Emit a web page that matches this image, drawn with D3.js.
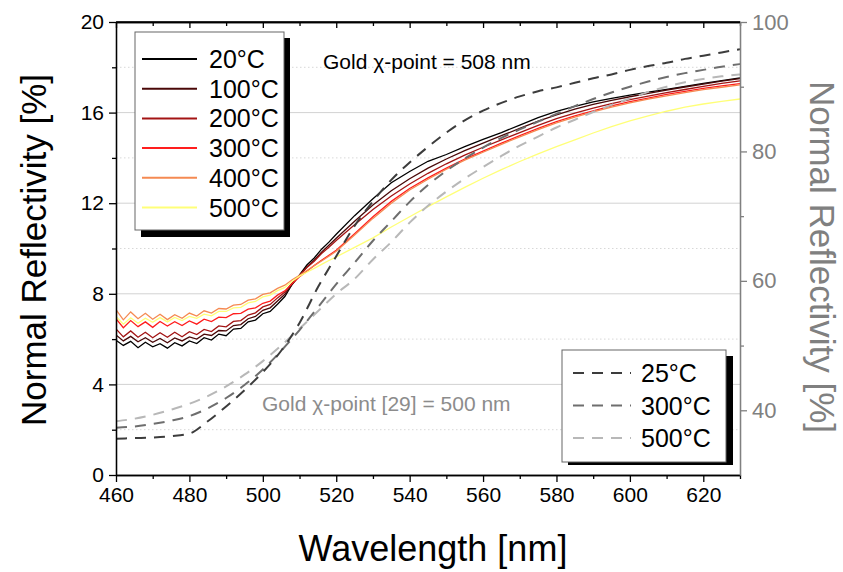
<!DOCTYPE html>
<html><head><meta charset="utf-8">
<script src="https://cdn.jsdelivr.net/npm/d3@7"></script>
<style>body{margin:0;background:#fff} svg text{font-family:"Liberation Sans",Arial,sans-serif}</style>
</head><body><svg id="c" width="843" height="572"></svg>
<script>
// ---------- DATA ----------
const wlSolid = [460,462,464,466,468,470,472,474,476,478,480,482,484,486,488,490,492,494,496,498,500,502,504,506,508,510,512,514,516,518,520,525,530,535,540,545,550,555,560,565,570,575,580,585,590,595,600,605,610,615,620,625,630];
const measLabels = ["20°C","100°C","200°C","300°C","400°C","500°C"];
const meas20 = [5.95,5.72,5.9,5.62,5.86,5.66,5.8,5.6,5.84,5.7,5.92,5.8,6.06,5.96,6.22,6.15,6.44,6.47,6.76,6.84,7.12,7.22,7.54,7.88,8.42,8.83,9.27,9.58,9.97,10.28,10.63,11.45,12.2,12.9,13.4,13.85,14.15,14.5,14.82,15.12,15.45,15.78,16.05,16.28,16.47,16.63,16.77,16.9,17.03,17.16,17.29,17.41,17.53];
const meas100 = [6.18,5.92,6.12,5.88,6.06,5.86,6.03,5.84,6.05,5.92,6.1,6.0,6.22,6.16,6.38,6.36,6.6,6.64,6.9,7.0,7.27,7.38,7.68,7.98,8.42,8.8,9.18,9.48,9.84,10.14,10.45,11.2,11.92,12.55,13.08,13.55,13.95,14.32,14.65,14.98,15.3,15.62,15.9,16.15,16.36,16.54,16.7,16.85,16.99,17.13,17.26,17.39,17.5];
const meas200 = [6.45,6.1,6.36,6.08,6.3,6.06,6.28,6.08,6.3,6.1,6.33,6.2,6.43,6.33,6.58,6.54,6.78,6.82,7.06,7.16,7.42,7.53,7.82,8.08,8.48,8.82,9.16,9.44,9.78,10.06,10.35,11.05,11.72,12.32,12.85,13.32,13.74,14.12,14.47,14.8,15.12,15.44,15.73,15.98,16.2,16.4,16.57,16.73,16.88,17.02,17.16,17.29,17.4];
const meas300 = [6.9,6.5,6.82,6.55,6.76,6.52,6.78,6.58,6.77,6.6,6.8,6.66,6.88,6.77,6.97,6.95,7.12,7.14,7.32,7.38,7.58,7.68,7.94,8.13,8.45,8.75,9.0,9.25,9.48,9.7,9.92,10.65,11.4,12.08,12.65,13.12,13.55,13.95,14.3,14.65,14.98,15.3,15.6,15.85,16.08,16.3,16.48,16.64,16.8,16.94,17.07,17.18,17.28];
const meas400 = [7.3,6.85,7.2,6.9,7.14,6.88,7.1,6.86,7.08,6.92,7.15,7.02,7.25,7.15,7.35,7.33,7.5,7.53,7.72,7.78,7.97,8.04,8.24,8.38,8.62,8.82,9.03,9.24,9.45,9.66,9.88,10.6,11.33,12.0,12.58,13.06,13.5,13.9,14.25,14.6,14.93,15.25,15.55,15.8,16.03,16.24,16.43,16.59,16.74,16.88,17.01,17.12,17.22];
const meas500 = [7.0,6.66,6.94,6.7,6.92,6.74,6.95,6.76,6.96,6.82,7.0,6.92,7.1,7.03,7.22,7.22,7.38,7.4,7.6,7.66,7.86,7.94,8.14,8.28,8.55,8.78,8.95,9.12,9.3,9.47,9.63,10.05,10.47,10.95,11.4,11.85,12.28,12.7,13.1,13.48,13.84,14.18,14.5,14.8,15.1,15.38,15.63,15.86,16.06,16.24,16.38,16.5,16.6];
const measColors = ["#000000","#4a0808","#a31414","#ff1e1e","#f58a52","#ffff78"];

const wlCalc = [460,465,470,475,480,485,490,495,500,505,510,515,520,525,530,535,540,545,550,555,560,565,570,575,580,585,590,595,600,605,610,615,620,625,630];
const calcLabels = ["25°C","300°C","500°C"];
const calc25 = [35.6,35.7,35.8,36.0,36.4,38.3,40.6,43.1,45.9,49.2,53.5,59.0,63.8,68.5,72.3,75.6,78.3,80.7,82.9,84.8,86.3,87.5,88.5,89.3,89.9,90.6,91.3,91.9,92.6,93.2,93.7,94.3,94.8,95.3,95.8];
const calc300 = [37.3,37.5,37.9,38.4,39.1,40.3,41.9,43.9,46.3,49.2,52.4,55.9,59.5,62.8,66.2,69.2,72.2,74.8,77.0,78.9,80.6,82.1,83.4,84.6,85.8,87.0,88.1,89.1,90.0,90.8,91.5,92.1,92.6,93.1,93.5];
const calc500 = [38.3,38.7,39.3,40.1,41.0,42.2,43.7,45.5,47.6,50.0,52.6,55.3,58.0,60.3,63.3,66.0,69.0,71.6,73.8,75.8,77.6,79.3,80.9,82.3,83.7,84.9,86.1,87.2,88.2,89.2,90.0,90.7,91.2,91.6,91.9];
const calcColors = ["#3c3c3c","#6e6e6e","#b8b8b8"];

const xMajor = [460,480,500,520,540,560,580,600,620];
const xMinor = [470,490,510,530,550,570,590,610,630];
const yLeftMajor = [0,4,8,12,16,20];
const yLeftMinor = [2,6,10,14,18];
const yRightMajor = [40,60,80,100];
const yRightMinor = [50,70,90];

// ---------- LAYOUT ----------
const L = 116, R = 740, T = 22, B = 475;
const svg = d3.select("#c");
const x = d3.scaleLinear().domain([460,630]).range([L,R]);
const yL = d3.scaleLinear().domain([0,20]).range([B,T]);
const yR = d3.scaleLinear().domain([30,100]).range([B,T]);
const font = '"Liberation Sans",Arial,sans-serif';

// gridlines
svg.append("g").selectAll("line").data(yLeftMajor.filter(v=>v>0&&v<20)).join("line")
  .attr("x1",L).attr("x2",R).attr("y1",d=>yL(d)).attr("y2",d=>yL(d))
  .attr("stroke","#d2d2d2").attr("stroke-width",1);
svg.append("g").selectAll("line").data(yLeftMinor).join("line")
  .attr("x1",L).attr("x2",R).attr("y1",d=>yL(d)).attr("y2",d=>yL(d))
  .attr("stroke","#d8d8d8").attr("stroke-width",1).attr("stroke-dasharray","1.5,2.5");

svg.append("clipPath").attr("id","clip").append("rect").attr("x",L).attr("y",T).attr("width",R-L).attr("height",B-T);
const plot = svg.append("g").attr("clip-path","url(#clip)");

// measured curves
const measAll = [meas20,meas100,meas200,meas300,meas400,meas500];
const lineL = d3.line().x((d,i)=>x(wlSolid[i])).y(d=>yL(d));
measAll.forEach((s,k)=>{
  plot.append("path").datum(s).attr("d",lineL).attr("fill","none")
    .attr("stroke",measColors[k]).attr("stroke-width",1.3);
});
// calculated curves
const calcAll = [calc25,calc300,calc500];
const lineR = d3.line().curve(d3.curveMonotoneX).x((d,i)=>x(wlCalc[i])).y(d=>yR(d));
calcAll.slice().reverse().forEach((s,kk)=>{
  const k = 2-kk;
  plot.append("path").datum(s).attr("d",lineR).attr("fill","none")
    .attr("stroke",calcColors[k]).attr("stroke-width",2).attr("stroke-dasharray","11,8");
});

// axes
function styleAxis(g, color, fs){
  g.selectAll("path.domain").attr("stroke",color).attr("stroke-width",1.3);
  g.selectAll(".tick line").attr("stroke",color).attr("stroke-width",1.3);
  g.selectAll(".tick text").attr("fill",color).style("font-family",font).style("font-size",fs+"px");
}
const gb = svg.append("g").attr("transform",`translate(0,${B})`)
  .call(d3.axisBottom(x).tickValues(xMajor).tickSize(7).tickSizeOuter(0).tickPadding(5).tickFormat(d3.format("d")));
styleAxis(gb,"#000",21);
const gbm = svg.append("g").attr("transform",`translate(0,${B})`)
  .call(d3.axisBottom(x).tickValues(xMinor).tickSize(4).tickSizeOuter(0).tickFormat(""));
styleAxis(gbm,"#000",21);
const gt = svg.append("g").attr("transform",`translate(0,${T})`)
  .call(d3.axisBottom(x).tickValues(xMajor).tickSize(6).tickSizeOuter(0).tickFormat(""));
styleAxis(gt,"#000",21);
const gtm = svg.append("g").attr("transform",`translate(0,${T})`)
  .call(d3.axisBottom(x).tickValues(xMinor).tickSize(4).tickSizeOuter(0).tickFormat(""));
styleAxis(gtm,"#000",21);
const gl = svg.append("g").attr("transform",`translate(${L},0)`)
  .call(d3.axisLeft(yL).tickValues(yLeftMajor).tickSize(7).tickSizeOuter(0).tickPadding(5).tickFormat(d3.format("d")));
styleAxis(gl,"#000",21);
const glm = svg.append("g").attr("transform",`translate(${L},0)`)
  .call(d3.axisLeft(yL).tickValues(yLeftMinor).tickSize(4).tickSizeOuter(0).tickFormat(""));
styleAxis(glm,"#000",21);
const gr = svg.append("g").attr("transform",`translate(${R},0)`)
  .call(d3.axisRight(yR).tickValues(yRightMajor).tickSize(7).tickSizeOuter(0).tickPadding(5).tickFormat(d3.format("d")));
styleAxis(gr,"#808080",22);
const grm = svg.append("g").attr("transform",`translate(${R},0)`)
  .call(d3.axisRight(yR).tickValues(yRightMinor).tickSize(4).tickSizeOuter(0).tickFormat(""));
styleAxis(grm,"#808080",22);
svg.append("line").attr("x1",L).attr("x2",R).attr("y1",T).attr("y2",T).attr("stroke","#000").attr("stroke-width",1.3);

// axis titles
svg.append("text").attr("x",433).attr("y",561).attr("text-anchor","middle")
  .style("font-size","36px").attr("fill","#000").text("Wavelength [nm]");
svg.append("text").attr("transform","translate(46,250) rotate(-90)").attr("text-anchor","middle")
  .style("font-size","35px").attr("fill","#000").text("Normal Reflectivity [%]");
svg.append("text").attr("transform","translate(810,257) rotate(90)").attr("text-anchor","middle")
  .style("font-size","35px").attr("fill","#808080").text("Normal Reflectivity [%]");

// annotations
svg.append("text").attr("x",323).attr("y",69).style("font-size","21px").attr("fill","#000")
  .text("Gold χ-point = 508 nm");
svg.append("text").attr("x",262).attr("y",411).style("font-size","21px").attr("fill","#8c8c8c")
  .text("Gold χ-point [29] = 500 nm");

// legend 1 (measured)
const lg1 = svg.append("g");
lg1.append("rect").attr("x",141).attr("y",38).attr("width",149).attr("height",199).attr("fill","#000");
lg1.append("rect").attr("x",135).attr("y",32).attr("width",149).attr("height",198).attr("fill","#fff").attr("stroke","#666").attr("stroke-width",1);
measLabels.forEach((lab,i)=>{
  const yy = 59 + i*29.7;
  lg1.append("line").attr("x1",142).attr("x2",197).attr("y1",yy).attr("y2",yy).attr("stroke",measColors[i]).attr("stroke-width",2);
  lg1.append("text").attr("x",209).attr("y",yy+9).style("font-size","25px").attr("fill","#000").text(lab);
});

// legend 2 (calculated)
const lg2 = svg.append("g");
lg2.append("rect").attr("x",568).attr("y",356).attr("width",165).attr("height",109).attr("fill","#000");
lg2.append("rect").attr("x",562).attr("y",350).attr("width",164).attr("height",112).attr("fill","#fff").attr("stroke","#666").attr("stroke-width",1);
calcLabels.forEach((lab,i)=>{
  const yy = 373 + i*32.5;
  lg2.append("line").attr("x1",573).attr("x2",631).attr("y1",yy).attr("y2",yy).attr("stroke",calcColors[i]).attr("stroke-width",2).attr("stroke-dasharray","11,8");
  lg2.append("text").attr("x",641).attr("y",yy+9).style("font-size","25px").attr("fill","#000").text(lab);
});
</script></body></html>
